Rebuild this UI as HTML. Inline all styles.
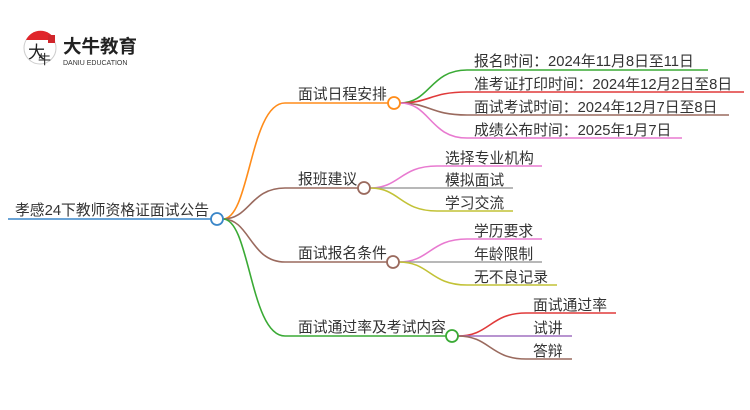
<!DOCTYPE html>
<html><head><meta charset="utf-8"><style>
html,body{margin:0;padding:0;background:#fff;width:750px;height:410px;overflow:hidden}
svg text{font-family:"Liberation Sans","Noto Sans CJK SC",sans-serif;fill:#333}
</style></head><body>
<svg width="750" height="410" viewBox="0 0 750 410" xmlns="http://www.w3.org/2000/svg">
<!-- logo -->
<g>
<circle cx="40" cy="48" r="16" fill="#fff" stroke="#ccc" stroke-width="1"/>
<path d="M26 40 A16 16 0 0 1 55 40 Z" fill="#e0262b"/>
<rect x="48" y="35" width="7" height="8" fill="#d0262b"/>
<text x="28" y="58" font-size="17" style="fill:#222">大</text>
<text x="38" y="64" font-size="13" style="fill:#222">牛</text>
<text x="63" y="53" font-size="18.5" font-weight="bold" style="fill:#222">大牛教育</text>
<text x="63" y="65" font-size="7" style="fill:#333">DANIU EDUCATION</text>
</g>
<g fill="none" stroke-width="1.6">
<path d="M8 219 H211" stroke="#3a86c8"/>
<path d="M223 219 C250 219,250 103,285 103 H388" stroke="#ff8c1a"/>
<path d="M223 219 C250 219,250 188,285 188 H358" stroke="#9a6a5e"/>
<path d="M223 219 C250 219,250 262,285 262 H387" stroke="#9a6a5e"/>
<path d="M223 219 C250 219,250 336,285 336 H446" stroke="#3aaa35"/>
<path d="M400 103 C430 103,430 70,467 70 H708" stroke="#3aaa35"/>
<path d="M400 103 C430 103,430 92,467 92 H744" stroke="#e03a3a"/>
<path d="M400 103 C430 103,430 115,467 115 H729" stroke="#9a6a5e"/>
<path d="M400 103 C430 103,430 138,467 138 H682" stroke="#e87ad0"/>
<path d="M370 188 C400 188,400 166,437 166 H542" stroke="#e87ad0"/>
<path d="M370 188 H513" stroke="#a0a0a0"/>
<path d="M370 188 C400 188,400 211,437 211 H513" stroke="#c2c236"/>
<path d="M399 262 C430 262,430 239,467 239 H542" stroke="#e87ad0"/>
<path d="M399 262 H542" stroke="#a0a0a0"/>
<path d="M399 262 C430 262,430 285,467 285 H557" stroke="#c2c236"/>
<path d="M458 336 C490 336,490 313,526 313 H616" stroke="#e03a3a"/>
<path d="M458 336 H572" stroke="#a070c0"/>
<path d="M458 336 C490 336,490 359,526 359 H572" stroke="#9a6a5e"/>
</g>
<g fill="#fff" stroke-width="1.8">
<circle cx="217" cy="219" r="6" stroke="#3a86c8"/>
<circle cx="394" cy="103" r="6" stroke="#ff8c1a"/>
<circle cx="364" cy="188" r="6" stroke="#9a6a5e"/>
<circle cx="393" cy="262" r="6" stroke="#9a6a5e"/>
<circle cx="452" cy="336" r="6" stroke="#3aaa35"/>
</g>
<g font-size="14.8">
<text x="15" y="215">孝感24下教师资格证面试公告</text>
<text x="298" y="99">面试日程安排</text>
<text x="298" y="184">报班建议</text>
<text x="298" y="258">面试报名条件</text>
<text x="298" y="332">面试通过率及考试内容</text>
<text x="474" y="66">报名时间：2024年11月8日至11日</text>
<text x="474" y="89">准考证打印时间：2024年12月2日至8日</text>
<text x="474" y="112">面试考试时间：2024年12月7日至8日</text>
<text x="474" y="135">成绩公布时间：2025年1月7日</text>
<text x="445" y="163">选择专业机构</text>
<text x="445" y="185">模拟面试</text>
<text x="445" y="208">学习交流</text>
<text x="474" y="236">学历要求</text>
<text x="474" y="259">年龄限制</text>
<text x="474" y="282">无不良记录</text>
<text x="533" y="310">面试通过率</text>
<text x="533" y="333">试讲</text>
<text x="533" y="356">答辩</text>
</g>
</svg>
</body></html>
